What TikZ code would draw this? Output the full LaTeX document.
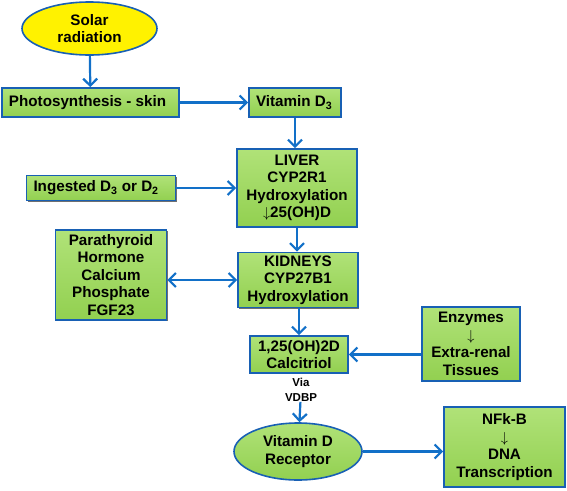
\documentclass[tikz,border=0pt]{standalone}
\usepackage{fontspec}
\setmainfont{Liberation Sans}
\usepackage{tikz}
\usetikzlibrary{arrows.meta, shapes.geometric, shadows}

\definecolor{boxgreen}{RGB}{146,208,80}
\definecolor{boxgreenlt}{RGB}{176,226,120}
\definecolor{edgeblue}{RGB}{24,96,180}
\definecolor{arrblue}{RGB}{18,112,200}

\begin{document}
\begin{tikzpicture}[x=1pt, y=-1pt,
    every node/.style={font=\fontsize{15.2}{17.5}\selectfont\bfseries, align=center, inner sep=0},
    gbox/.style={rectangle, draw=edgeblue, line width=1.6pt, top color=boxgreenlt, bottom color=boxgreen,
      drop shadow={shadow xshift=1pt, shadow yshift=-1pt, fill=black!70, opacity=0.8}},
    lbox/.style={gbox, align=flush left, text width=#1},
    gell/.style={ellipse, draw=edgeblue, line width=1.6pt, top color=boxgreenlt, bottom color=boxgreen},
    yell/.style={ellipse, draw=edgeblue, line width=1.6pt, fill=yellow},
    flow/.style={draw=arrblue, line width=2.2pt, -{Straight Barb[length=7pt, width=14pt, line width=2.2pt]}},
    flowb/.style={draw=arrblue, line width=2.2pt, {Straight Barb[length=7pt, width=14pt, line width=2.2pt]}-{Straight Barb[length=7pt, width=14pt, line width=2.2pt]}}]
    \useasboundingbox (0,0) rectangle (567,490);
    % nodes
    \node [yell, minimum width=135pt, minimum height=53pt] (solar) at (89.5,28.5) {Solar\\radiation};
    \node [lbox=163pt, minimum width=177pt, minimum height=29pt] (photo) at (90.5,102.5) {Photosynthesis - skin};
    \node [lbox=78pt, minimum width=92pt, minimum height=29pt] (vitd) at (295,102.5) {Vitamin D\textsubscript{3}};
    \node [gbox, minimum width=120pt, minimum height=78pt] (liver) at (297,188) {LIVER\\CYP2R1\\Hydroxylation\\$\downarrow$25(OH)D};
    \node [lbox=135pt, minimum width=149pt, minimum height=25pt] (ingest) at (101,188) {Ingested D\textsubscript{3} or D\textsubscript{2}};
    \node [gbox, minimum width=111pt, minimum height=90pt] (pth) at (111,275) {Parathyroid\\Hormone\\Calcium\\Phosphate\\FGF23};
    \node [gbox, minimum width=120pt, minimum height=55pt] (kidney) at (298,280) {KIDNEYS\\CYP27B1\\Hydroxylation};
    \node [gbox, minimum width=98pt, minimum height=37pt] (calcit) at (299,354.5) {1,25(OH)2D\\Calcitriol};
    \node [gbox, minimum width=98pt, minimum height=74pt] (enzym) at (471,344) {Enzymes\\$\downarrow$\\Extra-renal\\Tissues};
    \node [font=\fontsize{11.5}{15}\selectfont\bfseries] (via) at (301,390) {Via\\VDBP};
    \node [gell, minimum width=128pt, minimum height=57pt] (vdr) at (298,451.5) {Vitamin D\\Receptor};
    \node [gbox, minimum width=121pt, minimum height=80pt] (nfkb) at (504.5,447) {NFk-B\\$\downarrow$\\DNA\\Transcription};
    % connectors
    \draw [flow] (solar) -- (photo);
    \draw [flow] (photo) -- (vitd);
    \draw [flow] (vitd) -- (vitd |- liver.north);
    \draw [flow] (ingest) -- (liver);
    \draw [flow] (liver) -- (liver |- kidney.north);
    \draw [flowb] (pth.east |- kidney) -- (kidney);
    \draw [flow] (kidney.south -| calcit) -- (calcit);
    \draw [flow] (enzym.west |- calcit) -- (calcit);
    \draw [flow] (via) -- (vdr);
    \draw [flow] (vdr) -- (vdr -| nfkb.west);
  \end{tikzpicture}
\end{document}
